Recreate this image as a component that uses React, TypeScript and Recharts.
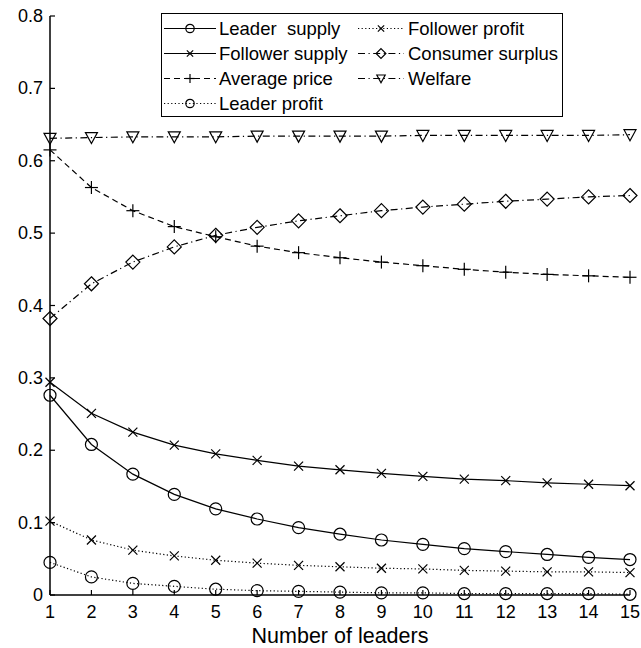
import { LineChart, Line, XAxis, YAxis, Legend } from "recharts";

const leaders = [1, 2, 3, 4, 5, 6, 7, 8, 9, 10, 11, 12, 13, 14, 15];
const leaderSupply = [0.276, 0.208, 0.167, 0.139, 0.119, 0.105, 0.093, 0.084, 0.076, 0.07, 0.064, 0.06, 0.056, 0.052, 0.049];
const followerSupply = [0.294, 0.251, 0.225, 0.207, 0.195, 0.186, 0.178, 0.173, 0.168, 0.164, 0.16, 0.158, 0.155, 0.153, 0.151];
const averagePrice = [0.615, 0.563, 0.531, 0.509, 0.495, 0.482, 0.473, 0.466, 0.46, 0.455, 0.45, 0.446, 0.443, 0.441, 0.439];
const leaderProfit = [0.045, 0.025, 0.016, 0.012, 0.008, 0.006, 0.005, 0.004, 0.003, 0.003, 0.002, 0.002, 0.002, 0.002, 0.001];
const followerProfit = [0.102, 0.076, 0.062, 0.054, 0.048, 0.044, 0.041, 0.039, 0.037, 0.036, 0.034, 0.033, 0.032, 0.032, 0.031];
const consumerSurplus = [0.382, 0.43, 0.46, 0.481, 0.497, 0.508, 0.517, 0.524, 0.531, 0.536, 0.54, 0.544, 0.547, 0.55, 0.552];
const welfare = [0.631, 0.632, 0.633, 0.633, 0.633, 0.634, 0.634, 0.634, 0.634, 0.635, 0.635, 0.635, 0.635, 0.635, 0.636];
const yTicks = [0, 0.1, 0.2, 0.3, 0.4, 0.5, 0.6, 0.7, 0.8];

const FONT = '"Liberation Sans", Arial, Helvetica, sans-serif';

type Shape = "circle" | "x" | "plus" | "diamond" | "triangle";

const SERIES: { key: string; name: string; dash?: string; shape: Shape }[] = [
  { key: "leaderSupply", name: "Leader  supply", shape: "circle" },
  { key: "followerSupply", name: "Follower supply", shape: "x" },
  { key: "averagePrice", name: "Average price", dash: "6 4", shape: "plus" },
  { key: "leaderProfit", name: "Leader profit", dash: "1.2 2.4", shape: "circle" },
  { key: "followerProfit", name: "Follower profit", dash: "1.2 2.4", shape: "x" },
  { key: "consumerSurplus", name: "Consumer surplus", dash: "7 3.5 1.2 3.5", shape: "diamond" },
  { key: "welfare", name: "Welfare", dash: "7 3.5 1.2 3.5", shape: "triangle" },
];

const data = leaders.map((n, i) => ({
  n,
  leaderSupply: leaderSupply[i],
  followerSupply: followerSupply[i],
  averagePrice: averagePrice[i],
  leaderProfit: leaderProfit[i],
  followerProfit: followerProfit[i],
  consumerSurplus: consumerSurplus[i],
  welfare: welfare[i],
}));

function Marker({ shape, cx, cy, s = 1 }: { shape: Shape; cx: number; cy: number; s?: number }) {
  const st = { stroke: "#000", strokeWidth: 1.2, fill: "none" };
  if (shape === "circle") return <circle cx={cx} cy={cy} r={6 * s} {...st} />;
  if (shape === "x") {
    const d = 4.5 * s;
    return (
      <g {...st}>
        <line x1={cx - d} y1={cy - d} x2={cx + d} y2={cy + d} />
        <line x1={cx - d} y1={cy + d} x2={cx + d} y2={cy - d} />
      </g>
    );
  }
  if (shape === "plus") {
    const d = 6.5 * s;
    return (
      <g {...st}>
        <line x1={cx - d} y1={cy} x2={cx + d} y2={cy} />
        <line x1={cx} y1={cy - d} x2={cx} y2={cy + d} />
      </g>
    );
  }
  if (shape === "diamond") {
    const d = 7 * s;
    return <polygon points={`${cx},${cy - d} ${cx + d},${cy} ${cx},${cy + d} ${cx - d},${cy}`} {...st} />;
  }
  const w = 6 * s;
  return <polygon points={`${cx - w},${cy - 5 * s} ${cx + w},${cy - 5 * s} ${cx},${cy + 6 * s}`} {...st} />;
}

function XTick({ x, y, payload }: any) {
  return (
    <g>
      <line x1={x} y1={y} x2={x} y2={y - 5} stroke="#000" strokeWidth={1.2} />
      <text x={x} y={y + 23} textAnchor="middle" fontSize={18} fontFamily={FONT} fill="#000">
        {payload.value}
      </text>
    </g>
  );
}

function YTick({ x, y, payload }: any) {
  const v = payload.value;
  return (
    <g>
      <line x1={x} y1={y} x2={x + 5} y2={y} stroke="#000" strokeWidth={1.2} />
      <text x={x - 7} y={y + 6} textAnchor="end" fontSize={18} fontFamily={FONT} fill="#000">
        {v === 0 ? "0" : v.toFixed(1)}
      </text>
    </g>
  );
}

function LegendSample({ dash, shape, width }: { dash?: string; shape: Shape; width: number }) {
  return (
    <svg width={width} height={25} style={{ display: "block", flex: "none" }}>
      <line x1={0} y1={12.5} x2={width} y2={12.5} stroke="#000" strokeWidth={1.2} strokeDasharray={dash} />
      <Marker shape={shape} cx={width / 2} cy={12.5} s={0.7} />
    </svg>
  );
}

function LegendBox() {
  return (
    <div
      style={{
        boxSizing: "border-box",
        width: 402,
        height: 104,
        border: "1.5px solid #000",
        background: "#fff",
        padding: "2px 0 0 2px",
        display: "grid",
        gridTemplateColumns: "194px auto",
        gridTemplateRows: "repeat(4, 25px)",
        gridAutoFlow: "column",
        fontFamily: FONT,
        fontSize: 18.5,
        color: "#000",
      }}
    >
      {SERIES.map((s, i) => (
        <div key={s.key} style={{ display: "flex", alignItems: "center", whiteSpace: "pre" }}>
          <LegendSample dash={s.dash} shape={s.shape} width={i < 4 ? 52 : 46} />
          <span style={{ marginLeft: i < 4 ? 3 : 4 }}>{s.name}</span>
        </div>
      ))}
    </div>
  );
}

export default function App() {
  return (
    <div style={{ position: "absolute", left: 0, top: 0, width: 641, height: 648, background: "#fff" }}>
      <LineChart width={641} height={648} data={data} margin={{ top: 16, right: 11, bottom: 0, left: 0 }}>
        <XAxis
          dataKey="n"
          type="number"
          domain={[1, 15]}
          ticks={leaders}
          interval={0}
          height={53}
          tickSize={0}
          tickMargin={0}
          tickLine={false}
          axisLine={{ stroke: "#000", strokeWidth: 1.5 }}
          tick={<XTick />}
          label={{
            content: (p: any) => {
              const vb = p.viewBox;
              return (
                <text x={vb.x + vb.width / 2} y={vb.y + 48} textAnchor="middle" fontSize={21.5} fontFamily={FONT} fill="#000">
                  Number of leaders
                </text>
              );
            },
          }}
        />
        <YAxis
          type="number"
          domain={[0, 0.8]}
          ticks={yTicks}
          interval={0}
          width={50}
          tickSize={0}
          tickMargin={0}
          tickLine={false}
          axisLine={{ stroke: "#000", strokeWidth: 1.5 }}
          tick={<YTick />}
        />
        <Legend
          layout="horizontal"
          verticalAlign="middle"
          align="center"
          wrapperStyle={{ left: 161, top: 13, width: 402, height: 104 }}
          content={() => <LegendBox />}
        />
        {SERIES.map((s) => (
          <Line
            key={s.key}
            dataKey={s.key}
            name={s.name}
            type="linear"
            stroke="#000"
            strokeWidth={1.2}
            strokeDasharray={s.dash}
            isAnimationActive={false}
            dot={(p: any) => (
              <g key={`${s.key}-${p.index}`}>
                <Marker shape={s.shape} cx={p.cx} cy={p.cy} />
              </g>
            )}
            activeDot={false}
          />
        ))}
      </LineChart>
    </div>
  );
}
